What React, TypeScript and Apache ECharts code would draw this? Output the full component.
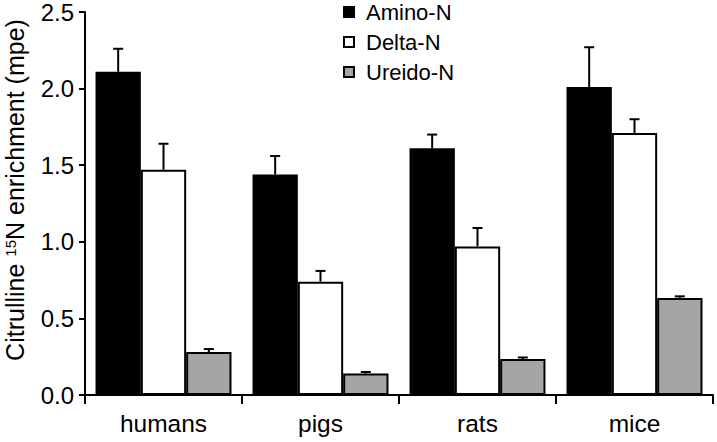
import React, { useEffect, useRef } from "react";
import * as echarts from "echarts";

const categories = ["humans", "pigs", "rats", "mice"];
const seriesNames = ["Amino-N", "Delta-N", "Ureido-N"];
const aminoN = [2.11, 1.44, 1.61, 2.01];
const aminoErr = [0.15, 0.12, 0.09, 0.26];
const deltaN = [1.47, 0.74, 0.97, 1.71];
const deltaErr = [0.17, 0.07, 0.12, 0.09];
const ureidoN = [0.28, 0.14, 0.235, 0.633];
const ureidoErr = [0.02, 0.01, 0.01, 0.011];
const yTicks = [0, 0.5, 1.0, 1.5, 2.0, 2.5];

const FONT = "'Liberation Sans', Arial, sans-serif";
const CAT_GAP = 0.134;

export default function App() {
  const ref = useRef<HTMLDivElement>(null);
  useEffect(() => {
    if (!ref.current) return;
    const chart = echarts.init(ref.current, undefined, { renderer: "svg" });
    const means = [aminoN, deltaN, ureidoN];
    const errs = [aminoErr, deltaErr, ureidoErr];
    const fills = ["#000000", "#ffffff", "#a5a5a5"];
    const errData: number[][] = [];
    means.forEach((m, gi) =>
      m.forEach((v, ci) => errData.push([ci, v, errs[gi][ci], gi]))
    );
    chart.setOption({
      animation: false,
      textStyle: { fontFamily: FONT, color: "#000" },
      grid: { left: 85, right: 4, top: 8, bottom: 47, containLabel: false },
      legend: {
        data: seriesNames,
        orient: "vertical",
        left: 343,
        top: 1,
        padding: 0,
        itemGap: 8,
        itemWidth: 10,
        itemHeight: 10,
        icon: "rect",
        textStyle: { fontSize: 22, fontFamily: FONT, color: "#000", padding: [0, 0, 0, 7] },
      },
      xAxis: {
        type: "category",
        data: categories,
        axisLine: { lineStyle: { color: "#000", width: 2 } },
        axisTick: { show: true, length: 9, lineStyle: { color: "#000", width: 2 } },
        axisLabel: { fontSize: 24.5, color: "#000", margin: 16, fontFamily: FONT },
      },
      yAxis: {
        type: "value",
        min: yTicks[0],
        max: yTicks[yTicks.length - 1],
        interval: 0.5,
        splitLine: { show: false },
        axisLine: { show: true, lineStyle: { color: "#000", width: 2 } },
        axisTick: { show: true, length: 6, lineStyle: { color: "#000", width: 2 } },
        axisLabel: {
          fontSize: 24,
          color: "#000",
          margin: 11,
          fontFamily: FONT,
          formatter: (v: number) => v.toFixed(1),
        },
      },
      graphic: [
        {
          type: "text",
          x: 15,
          y: 190,
          rotation: Math.PI / 2,
          style: {
            text: "Citrulline {sup|15}N enrichment (mpe)",
            fontSize: 25,
            fontFamily: FONT,
            fill: "#000",
            align: "center",
            verticalAlign: "middle",
            rich: {
              sup: { fontSize: 15, fontFamily: FONT, fill: "#000", verticalAlign: "top", padding: [0, 0, 9, 0] },
            },
          },
        },
      ],
      series: [
        ...means.map((m, gi) => ({
          name: seriesNames[gi],
          type: "bar",
          data: m,
          barGap: "0%",
          barCategoryGap: CAT_GAP * 100 + "%",
          itemStyle: { color: fills[gi], borderColor: "#000", borderWidth: 2 },
          z: 2,
        })),
        {
          type: "custom",
          name: "err",
          data: errData,
          z: 5,
          renderItem: (params: any, api: any) => {
            const ci = api.value(0);
            const v = api.value(1);
            const e = api.value(2);
            const gi = api.value(3);
            const base = api.coord([ci, v]);
            const top = api.coord([ci, v + e]);
            const band = api.size([1, 0])[0];
            const bw = (band * (1 - CAT_GAP)) / 3;
            const x = base[0] + (gi - 1) * bw;
            const st = { stroke: "#000", lineWidth: 2 };
            return {
              type: "group",
              children: [
                { type: "line", shape: { x1: x, y1: base[1], x2: x, y2: top[1] }, style: st },
                { type: "line", shape: { x1: x - 5, y1: top[1], x2: x + 5, y2: top[1] }, style: st },
              ],
            };
          },
        },
      ],
    });
    return () => chart.dispose();
  }, []);
  return <div ref={ref} style={{ width: 717, height: 442, position: "absolute", left: 0, top: 0 }} />;
}
